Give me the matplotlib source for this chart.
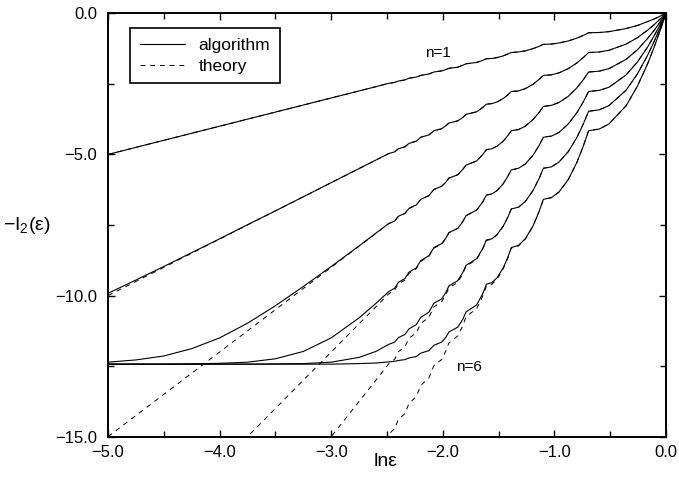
import matplotlib
matplotlib.use('Agg')
import matplotlib.pyplot as plt
from matplotlib.ticker import MultipleLocator, FuncFormatter
from matplotlib.lines import Line2D

plt.rcParams['font.family'] = ['Liberation Sans', 'DejaVu Sans']
plt.rcParams['mathtext.fontset'] = 'custom'
plt.rcParams['mathtext.rm'] = 'Liberation Sans'
plt.rcParams['mathtext.it'] = 'Liberation Sans:italic'

# x values (ln eps)
ln_eps = [-5.0, -4.75, -4.5, -4.25, -4.0, -3.75, -3.5, -3.25, -3.0, -2.75, -2.6,
          -2.4849, -2.4318, -2.3979, -2.3396, -2.3026, -2.2380, -2.1972, -2.1249,
          -2.0794, -2.0105, -1.9713, -1.9459, -1.8659, -1.8208, -1.7918, -1.6965,
          -1.6433, -1.6094, -1.5606, -1.5141, -1.4588, -1.4167, -1.3863, -1.3217,
          -1.2611, -1.1902, -1.1368, -1.0986, -1.0263, -0.9589, -0.8755, -0.7985,
          -0.7445, -0.6931, -0.5978, -0.5108, -0.3567, -0.2549, -0.1625, -0.1054,
          -0.0513, -0.0253, 0.0]

theory_n1 = [-5.0, -4.75, -4.5, -4.25, -4.0, -3.75, -3.5, -3.25, -3.0, -2.75, -2.6,
             -2.48, -2.45, -2.40, -2.36, -2.30, -2.26, -2.20, -2.15, -2.08, -2.04,
             -1.99, -1.95, -1.91, -1.84, -1.79, -1.74, -1.67, -1.61, -1.60, -1.57,
             -1.51, -1.44, -1.39, -1.37, -1.33, -1.25, -1.17, -1.10, -1.09, -1.05,
             -0.98, -0.88, -0.79, -0.69, -0.68, -0.65, -0.54, -0.43, -0.29, -0.20,
             -0.10, -0.05, 0.0]
theory_n2 = [-10.0, -9.5, -9.0, -8.5, -8.0, -7.5, -7.0, -6.5, -6.0, -5.5, -5.2,
             -4.97, -4.91, -4.80, -4.73, -4.61, -4.53, -4.39, -4.31, -4.16, -4.09,
             -3.98, -3.89, -3.81, -3.69, -3.58, -3.49, -3.34, -3.22, -3.20, -3.14,
             -3.02, -2.89, -2.77, -2.75, -2.67, -2.51, -2.34, -2.20, -2.18, -2.11,
             -1.96, -1.76, -1.58, -1.39, -1.37, -1.31, -1.09, -0.86, -0.59, -0.40,
             -0.20, -0.10, 0.0]
theory_n3 = [-15.0, -14.25, -13.5, -12.75, -12.0, -11.25, -10.5, -9.75, -9.0, -8.25, -7.8,
             -7.45, -7.36, -7.19, -7.09, -6.91, -6.79, -6.59, -6.46, -6.24, -6.13,
             -5.98, -5.84, -5.72, -5.53, -5.38, -5.23, -5.01, -4.83, -4.80, -4.71,
             -4.53, -4.33, -4.16, -4.12, -4.00, -3.76, -3.51, -3.30, -3.26, -3.16,
             -2.94, -2.64, -2.37, -2.08, -2.05, -1.96, -1.63, -1.29, -0.88, -0.60,
             -0.30, -0.15, 0.0]
theory_n4 = [-20.0, -19.0, -18.0, -17.0, -16.0, -15.0, -14.0, -13.0, -12.0, -11.0, -10.4,
             -9.94, -9.81, -9.59, -9.45, -9.21, -9.05, -8.79, -8.61, -8.32, -8.18,
             -7.97, -7.78, -7.62, -7.38, -7.17, -6.97, -6.69, -6.44, -6.40, -6.28,
             -6.04, -5.77, -5.55, -5.49, -5.34, -5.02, -4.68, -4.39, -4.35, -4.22,
             -3.92, -3.52, -3.16, -2.77, -2.73, -2.62, -2.18, -1.72, -1.18, -0.79,
             -0.40, -0.20, 0.0]
theory_n5 = [-25.0, -23.75, -22.5, -21.25, -20.0, -18.75, -17.5, -16.25, -15.0, -13.75, -13.0,
             -12.42, -12.26, -11.99, -11.81, -11.51, -11.32, -10.99, -10.77, -10.40, -10.22,
             -9.96, -9.73, -9.53, -9.22, -8.96, -8.72, -8.36, -8.05, -8.00, -7.85,
             -7.55, -7.22, -6.93, -6.87, -6.67, -6.27, -5.85, -5.49, -5.44, -5.27,
             -4.90, -4.40, -3.95, -3.47, -3.42, -3.27, -2.72, -2.14, -1.47, -0.99,
             -0.50, -0.25, 0.0]
theory_n6 = [-30.0, -28.5, -27.0, -25.5, -24.0, -22.5, -21.0, -19.5, -18.0, -16.5, -15.6,
             -14.91, -14.72, -14.39, -14.18, -13.82, -13.58, -13.18, -12.92, -12.48, -12.27,
             -11.95, -11.68, -11.43, -11.07, -10.75, -10.46, -10.03, -9.66, -9.60, -9.42,
             -9.05, -8.66, -8.32, -8.24, -8.01, -7.53, -7.02, -6.59, -6.53, -6.33,
             -5.89, -5.28, -4.74, -4.16, -4.10, -3.92, -3.27, -2.57, -1.77, -1.19,
             -0.60, -0.30, 0.0]

algorithm_n1 = [-5.0, -4.75, -4.5, -4.25, -4.0, -3.75, -3.5, -3.25, -3.0, -2.75, -2.6,
                -2.48, -2.45, -2.40, -2.36, -2.30, -2.26, -2.20, -2.15, -2.08, -2.04,
                -1.99, -1.95, -1.91, -1.84, -1.79, -1.74, -1.67, -1.61, -1.60, -1.57,
                -1.51, -1.44, -1.39, -1.37, -1.33, -1.25, -1.17, -1.10, -1.09, -1.05,
                -0.98, -0.88, -0.79, -0.69, -0.68, -0.65, -0.54, -0.43, -0.29, -0.20,
                -0.10, -0.05, 0.0]
algorithm_n2 = [-9.92, -9.45, -8.97, -8.48, -7.99, -7.49, -7.0, -6.5, -6.0, -5.5, -5.2,
                -4.97, -4.91, -4.80, -4.73, -4.61, -4.53, -4.39, -4.31, -4.16, -4.09,
                -3.98, -3.89, -3.81, -3.69, -3.58, -3.49, -3.34, -3.22, -3.20, -3.14,
                -3.02, -2.89, -2.77, -2.75, -2.67, -2.51, -2.34, -2.20, -2.18, -2.11,
                -1.96, -1.76, -1.58, -1.39, -1.37, -1.31, -1.09, -0.86, -0.59, -0.40,
                -0.20, -0.10, 0.0]
algorithm_n3 = [-12.36, -12.28, -12.14, -11.88, -11.50, -10.98, -10.36, -9.68, -8.97, -8.24, -7.79,
                -7.45, -7.36, -7.19, -7.09, -6.91, -6.79, -6.59, -6.46, -6.24, -6.13,
                -5.98, -5.84, -5.72, -5.53, -5.38, -5.23, -5.01, -4.83, -4.80, -4.71,
                -4.53, -4.33, -4.16, -4.12, -4.00, -3.76, -3.51, -3.30, -3.26, -3.16,
                -2.94, -2.64, -2.37, -2.08, -2.05, -1.96, -1.63, -1.29, -0.88, -0.60,
                -0.30, -0.15, 0.0]
algorithm_n4 = [-12.43, -12.43, -12.43, -12.42, -12.40, -12.36, -12.24, -11.98, -11.50, -10.79, -10.28,
                -9.86, -9.74, -9.53, -9.40, -9.17, -9.02, -8.76, -8.59, -8.30, -8.16,
                -7.96, -7.77, -7.62, -7.38, -7.17, -6.97, -6.69, -6.44, -6.40, -6.28,
                -6.04, -5.77, -5.55, -5.49, -5.34, -5.02, -4.68, -4.39, -4.35, -4.22,
                -3.92, -3.52, -3.16, -2.77, -2.73, -2.62, -2.18, -1.72, -1.18, -0.79,
                -0.40, -0.20, 0.0]
algorithm_n5 = [-12.43, -12.43, -12.43, -12.43, -12.43, -12.43, -12.42, -12.41, -12.36, -12.19, -11.98,
                -11.73, -11.65, -11.49, -11.38, -11.18, -11.03, -10.77, -10.59, -10.27, -10.12,
                -9.88, -9.66, -9.47, -9.18, -8.93, -8.69, -8.34, -8.03, -7.99, -7.84,
                -7.54, -7.22, -6.93, -6.87, -6.67, -6.27, -5.85, -5.49, -5.44, -5.27,
                -4.90, -4.40, -3.95, -3.47, -3.42, -3.27, -2.72, -2.14, -1.47, -0.99,
                -0.50, -0.25, 0.0]
algorithm_n6 = [-12.43, -12.43, -12.43, -12.43, -12.43, -12.43, -12.43, -12.43, -12.43, -12.41, -12.39,
                -12.35, -12.33, -12.30, -12.27, -12.21, -12.16, -12.04, -11.95, -11.76, -11.65,
                -11.47, -11.29, -11.12, -10.84, -10.58, -10.33, -9.94, -9.60, -9.54, -9.37,
                -9.02, -8.64, -8.30, -8.22, -7.99, -7.52, -7.02, -6.59, -6.53, -6.33,
                -5.89, -5.28, -4.74, -4.16, -4.10, -3.92, -3.27, -2.57, -1.77, -1.19,
                -0.60, -0.30, 0.0]

theory = [theory_n1, theory_n2, theory_n3, theory_n4, theory_n5, theory_n6]
algorithm = [algorithm_n1, algorithm_n2, algorithm_n3, algorithm_n4, algorithm_n5, algorithm_n6]

W, H = 679, 488
fig = plt.figure(figsize=(W / 100, H / 100), dpi=100)
L, R, T, B = 108, 666, 13.3, 436.7
ax = fig.add_axes([L / W, 1 - B / H, (R - L) / W, (B - T) / H])

for th in theory:
    ax.plot(ln_eps, th, color='black', lw=0.7, dashes=(5, 5))
for al in algorithm:
    ax.plot(ln_eps, al, color='black', lw=0.8)

ax.set_xlim(-5, 0)
ax.set_ylim(-15, 0)

ax.xaxis.set_major_locator(MultipleLocator(1.0))
ax.xaxis.set_minor_locator(MultipleLocator(0.5))
ax.yaxis.set_major_locator(MultipleLocator(5.0))
ax.yaxis.set_minor_locator(MultipleLocator(2.5))
fmt = FuncFormatter(lambda v, p: ('%.1f' % v).replace('-', '\u2212') if abs(v) > 1e-9 else '0.0')
ax.xaxis.set_major_formatter(fmt)
ax.yaxis.set_major_formatter(fmt)
ax.tick_params(which='both', direction='in', top=True, right=True, width=1.0)
ax.tick_params(which='major', length=5, labelsize=12)
ax.tick_params(which='minor', length=4)
ax.tick_params(axis='y', pad=8)
ax.tick_params(axis='x', pad=6)
for s in ax.spines.values():
    s.set_linewidth(1.4)

handles = [Line2D([], [], color='black', lw=0.8),
           Line2D([], [], color='black', lw=0.7, dashes=(5, 5))]
leg = ax.legend(handles, ['algorithm', 'theory'], loc='upper left',
                bbox_to_anchor=((130 - L) / (R - L), 1 - (28 - T) / (B - T)),
                borderaxespad=0, fontsize=12.5, handlelength=2.6, fancybox=False,
                frameon=True, edgecolor='black', framealpha=1, borderpad=0.55,
                labelspacing=0.35, handletextpad=0.8)
leg.get_frame().set_linewidth(1.2)

ax.text(-2.04, -1.41, 'n=1', ha='center', va='center', fontsize=11)
ax.text(-1.765, -12.54, 'n=6', ha='center', va='center', fontsize=11)

fig.text(27 / W, 1 - 226 / H, '\u2212I$_2$(\u03b5)', ha='center', va='center', fontsize=14)
fig.text(386 / W, 1 - 462 / H, 'ln\u03b5', ha='center', va='center', fontsize=14)

fig.savefig('out.png', dpi=100)
